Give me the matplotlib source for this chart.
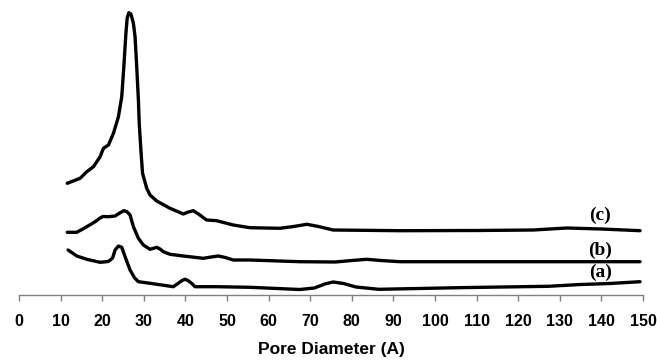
import matplotlib
matplotlib.use('Agg')
import matplotlib.pyplot as plt
import numpy as np

# pore size distributions (arbitrary units, already stacked)
d_a = [11.8, 13.9, 16.3, 19.5, 21.5, 22.5, 23.1, 23.9, 24.7, 25.5, 26.7, 27.8, 28.7, 31.5, 37.1, 38.2,
       39.2, 39.9, 40.6, 41.5, 42.3, 47.5, 55.5, 67.5, 71, 73.5, 75.5, 78, 81, 86.5, 106.8, 127.2, 135,
       142, 149.3]
h_a = [45, 39, 35.7, 32.7, 33.5, 37, 45, 49, 47.7, 38.3, 25, 17, 13.3, 11.7, 8.3, 11.5,
       14.5, 15.7, 14.5, 11.7, 8.3, 8.3, 7.7, 5.5, 7, 11, 13, 11.5, 8, 5.7, 7.4, 8.7, 10.5,
       11.5, 13.3]

d_b = [11.6, 13.9, 16.3, 18.3, 19.5, 20.2, 21.5, 23.1, 24.2, 25.2, 25.9, 26.7, 27.5, 28.7, 29.9,
       31.5, 32.4, 33.1, 33.9, 34.7, 36.3, 39.5, 44.3, 46.2, 47.9, 49.6, 51.5, 55.5, 67.5, 76, 80,
       83.6, 87, 91.6, 149.3]
h_b = [62.7, 62.7, 68.3, 73.3, 77, 78.5, 78.3, 79, 82, 84.3, 83.5, 80, 68.3, 56.7, 50,
       45.7, 46.8, 47.7, 46, 43.3, 40.7, 39, 36.7, 38, 39, 37.5, 35, 35, 33.3, 33, 34.5,
       35.7, 34.5, 33.3, 33.3]

d_c = [11.6, 14.7, 16.3, 17.9, 19.5, 20.3, 21.5, 22.7, 23.9, 24.7, 25.2, 25.7, 26.0, 26.4, 26.9,
       27.5, 27.9, 28.3, 28.7, 28.9, 29.3, 29.7, 30.7, 31.5, 33.1, 36.3, 39.5, 40.7, 41.9, 43.3,
       45.1, 47.5, 51.5, 55.5, 62.7, 66, 69.2, 72, 75.5, 91.6, 110, 123.6, 131.7, 140, 149.3]
h_c = [111.7, 116.7, 123.3, 128.3, 138.3, 146.7, 150, 161.7, 178.3, 198.3, 228.3, 261.7, 276.7, 282.3, 281,
       271.7, 258.3, 228.3, 195, 171.7, 145, 121.7, 106.7, 100, 94, 86.7, 81, 83, 84.3, 80.5,
       75, 74.3, 70, 67.3, 66.7, 68.5, 70.7, 68.5, 65, 64.3, 64.5, 65, 67, 66, 64.3]

labels = ['(a)', '(b)', '(c)']
label_x = [139.7, 139.7, 139.7]
label_y = [23, 45, 80]

xticks = list(range(0, 151, 10))

fig = plt.figure(figsize=(6.57, 3.6), dpi=100)
ax = fig.add_axes([19/657, 65/360, 624/657, 290/360])

for d, h in [(d_a, h_a), (d_b, h_b), (d_c, h_c)]:
    ax.plot(d, h, color='black', lw=2.4, solid_joinstyle='round', solid_capstyle='round')

for lab, lx, ly in zip(labels, label_x, label_y):
    ax.text(lx, ly, lab, ha='center', va='center', fontsize=14, fontweight='bold',
            family='Liberation Serif')

ax.set_xlim(0, 150)
ax.set_ylim(0, 290)
ax.set_xticks(xticks)
ax.set_xticklabels([str(t) for t in xticks], fontsize=11.5, fontweight='bold', family='Liberation Sans')
ax.tick_params(axis='x', direction='out', length=4, width=1, color='#808080', pad=10)
ax.set_yticks([])
for s in ['left', 'right', 'top']:
    ax.spines[s].set_visible(False)
ax.spines['bottom'].set_color('#808080')
ax.spines['bottom'].set_linewidth(1)
ax.set_xlabel('Pore Diameter (A)', fontsize=12.5, fontweight='bold', family='Liberation Sans', labelpad=9)

fig.savefig('out.png', dpi=100, facecolor='white')
